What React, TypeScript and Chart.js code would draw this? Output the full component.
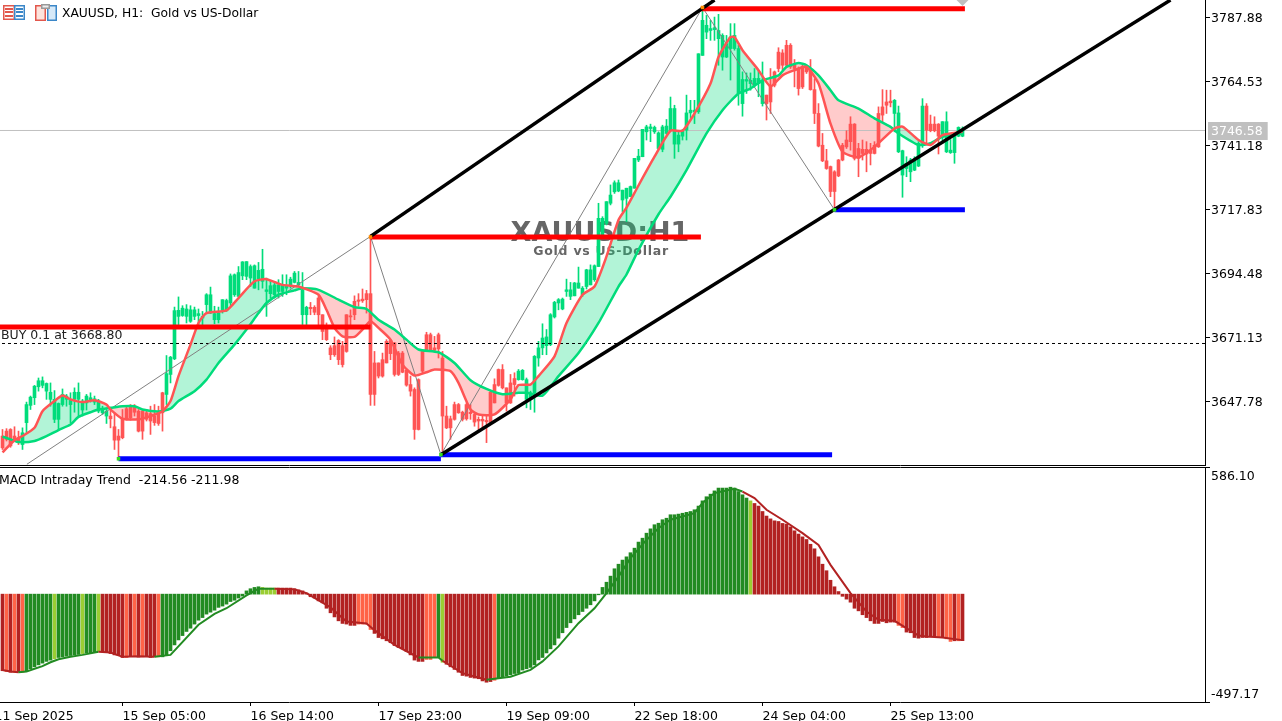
import React, { useEffect, useRef } from "react";
import { Chart, registerables } from "chart.js";

Chart.register(...registerables);

const opens = [
3635.0,3636.8,3637.4,3635.0,3634.4,3631.9,3639.9,3646.2,3649.0,3653.0,
3653.5,3651.4,3648.4,3641.1,3641.1,3646.5,3648.4,3646.5,3648.4,3648.4,
3644.5,3647.1,3648.0,3647.4,3644.1,3643.5,3642.3,3642.3,3638.4,3635.0,
3641.1,3645.0,3645.9,3645.7,3644.1,3644.1,3643.5,3643.2,3642.3,3643.5,
3650.8,3650.2,3657.5,3663.2,3678.7,3679.0,3678.7,3676.9,3678.7,3679.0,
3678.1,3683.0,3679.9,3677.5,3677.5,3680.9,3680.9,3683.6,3686.6,3686.0,
3693.5,3693.3,3692.7,3689.0,3692.3,3691.5,3687.8,3687.0,3686.6,3687.8,
3687.8,3689.0,3689.9,3691.1,3690.2,3679.3,3679.3,3682.0,3682.0,3685.4,
3679.3,3675.1,3667.2,3668.0,3669.9,3668.0,3679.3,3678.9,3684.2,3684.7,
3685.0,3687.0,3687.0,3661.7,3661.7,3662.9,3669.6,3669.9,3669.0,3665.3,
3665.3,3659.0,3653.8,3652.0,3655.6,3665.9,3672.0,3672.0,3667.2,3672.0,
3663.5,3642.3,3641.3,3646.5,3646.5,3643.7,3646.5,3643.7,3642.9,3641.1,
3641.1,3640.7,3651.0,3653.8,3659.3,3659.3,3652.6,3654.4,3656.0,3655.6,
3655.6,3648.4,3648.4,3650.8,3663.5,3667.2,3668.0,3668.4,3678.5,3683.6,
3681.4,3687.8,3686.0,3686.2,3689.0,3686.6,3689.6,3690.2,3692.1,3696.9,
3707.8,3712.7,3720.0,3724.2,3724.5,3721.2,3721.8,3722.4,3725.5,3735.8,
3737.0,3746.1,3747.3,3746.1,3740.0,3739.7,3745.5,3746.5,3741.6,3741.6,
3744.5,3746.7,3753.0,3753.4,3753.4,3774.0,3782.5,3783.1,3783.4,3780.1,
3773.4,3773.4,3776.5,3776.5,3760.1,3756.4,3764.6,3763.7,3763.1,3763.7,
3756.4,3759.5,3763.1,3768.0,3775.2,3774.9,3777.7,3777.7,3770.4,3769.2,
3770.0,3770.4,3768.6,3761.5,3752.8,3741.2,3735.5,3733.4,3731.5,3735.8,
3741.2,3743.1,3748.9,3748.9,3740.0,3739.7,3739.7,3739.4,3741.2,3752.8,
3755.2,3757.0,3757.3,3752.8,3738.8,3730.3,3732.7,3731.5,3732.1,3733.6,
3741.9,3755.5,3748.9,3748.9,3748.9,3744.5,3738.8,3738.5,3738.5,3744.5,
3744.5];

const highs = [
3637.4,3637.7,3637.7,3638.4,3636.8,3638.0,3647.4,3649.6,3653.5,3656.2,
3656.6,3654.4,3654.4,3651.6,3647.1,3652.2,3650.2,3650.8,3652.6,3654.4,
3648.4,3650.2,3650.8,3649.6,3648.4,3645.9,3644.7,3644.7,3643.5,3637.4,
3644.7,3645.9,3646.5,3646.5,3644.7,3644.7,3644.7,3645.9,3646.5,3645.9,
3651.0,3664.4,3664.1,3682.1,3685.8,3682.6,3683.0,3682.6,3682.1,3681.4,
3680.5,3687.0,3689.4,3682.4,3682.1,3684.8,3685.0,3694.2,3694.2,3696.9,
3698.7,3698.7,3697.5,3697.5,3698.4,3703.2,3692.7,3691.5,3691.5,3692.1,
3693.9,3693.9,3693.0,3695.1,3695.1,3694.7,3682.4,3683.8,3682.6,3686.0,
3679.3,3676.3,3668.0,3671.2,3670.2,3669.6,3679.3,3681.1,3686.2,3687.0,
3688.7,3688.2,3707.9,3665.9,3661.7,3665.3,3670.2,3670.2,3669.2,3665.9,
3665.9,3659.3,3656.9,3652.6,3655.9,3665.9,3672.9,3672.6,3671.4,3672.6,
3665.9,3645.9,3642.3,3647.4,3646.9,3644.1,3647.1,3646.5,3643.5,3642.0,
3642.3,3642.3,3651.4,3655.9,3659.5,3661.1,3652.6,3657.5,3658.1,3659.3,
3659.3,3656.2,3651.4,3664.4,3669.6,3676.0,3673.9,3679.7,3684.2,3685.2,
3685.4,3692.3,3691.1,3691.1,3696.7,3689.6,3695.9,3697.5,3697.5,3720.0,
3715.1,3720.6,3726.7,3728.2,3728.5,3724.8,3725.5,3726.3,3736.4,3739.7,
3747.0,3748.5,3748.9,3748.2,3746.1,3748.5,3750.6,3758.8,3755.8,3746.1,
3747.0,3759.5,3757.6,3757.6,3774.6,3791.4,3788.6,3786.8,3788.0,3789.0,
3781.9,3781.3,3785.6,3785.6,3777.7,3768.0,3767.6,3767.6,3769.2,3768.6,
3771.6,3759.5,3769.2,3768.3,3776.8,3776.1,3779.5,3778.3,3772.5,3769.8,
3770.4,3770.4,3772.5,3765.5,3756.4,3745.5,3739.7,3733.6,3731.9,3736.0,
3741.9,3746.5,3751.6,3749.1,3741.9,3743.1,3742.5,3741.9,3742.5,3755.2,
3761.5,3761.3,3761.3,3757.9,3755.5,3739.4,3737.0,3736.4,3737.0,3742.5,
3758.2,3756.4,3752.2,3751.6,3749.1,3749.8,3753.4,3743.3,3744.9,3747.9,
3747.9];

const lows = [
3630.1,3633.2,3630.9,3633.2,3631.9,3630.1,3636.2,3644.7,3646.5,3651.4,
3652.6,3648.4,3645.9,3639.9,3637.2,3645.9,3645.9,3639.9,3643.7,3642.3,
3642.3,3644.5,3647.4,3646.5,3643.5,3642.9,3639.6,3638.0,3630.1,3627.5,
3634.0,3640.8,3640.8,3642.3,3636.5,3633.8,3640.5,3635.6,3638.9,3638.9,
3636.8,3646.5,3654.4,3662.9,3675.7,3678.7,3676.3,3676.5,3677.5,3675.7,
3675.7,3679.7,3679.7,3676.0,3676.3,3679.9,3680.5,3682.6,3686.0,3686.0,
3692.1,3692.1,3689.6,3689.0,3688.4,3689.0,3678.7,3685.4,3685.4,3685.4,
3686.0,3686.6,3689.0,3690.9,3689.6,3675.7,3675.7,3679.3,3679.3,3675.7,
3670.2,3669.9,3662.9,3664.1,3661.1,3660.2,3665.6,3675.1,3677.5,3682.4,
3683.8,3679.9,3646.2,3646.2,3656.2,3656.5,3661.7,3662.9,3656.9,3657.1,
3658.1,3653.2,3649.6,3633.8,3637.2,3658.1,3665.9,3665.9,3665.9,3663.5,
3628.9,3637.7,3633.8,3640.8,3643.3,3640.5,3640.8,3641.1,3638.6,3637.4,
3638.0,3632.6,3639.6,3647.1,3653.2,3652.2,3644.1,3646.9,3649.6,3655.4,
3655.4,3645.3,3644.7,3643.7,3660.5,3664.7,3664.7,3668.0,3678.1,3681.1,
3681.1,3686.0,3684.8,3686.2,3689.0,3686.0,3688.7,3690.2,3691.5,3696.9,
3707.2,3712.1,3719.4,3723.6,3724.2,3716.9,3713.3,3722.4,3725.5,3735.2,
3737.0,3743.1,3742.5,3745.5,3739.7,3738.8,3744.9,3746.5,3736.4,3738.8,
3743.1,3743.1,3751.0,3749.1,3752.8,3774.0,3780.1,3779.5,3779.5,3770.4,
3768.6,3773.2,3765.0,3775.9,3755.8,3751.8,3760.1,3761.3,3762.5,3758.9,
3755.5,3750.4,3752.8,3762.5,3768.0,3768.6,3769.8,3769.2,3762.5,3759.5,
3761.9,3767.4,3761.3,3749.1,3740.6,3735.2,3732.4,3722.4,3718.2,3729.7,
3735.5,3740.0,3739.4,3735.8,3729.7,3735.8,3731.5,3734.0,3738.0,3740.4,
3749.7,3752.8,3755.2,3746.1,3738.5,3722.2,3729.7,3727.9,3731.9,3733.4,
3740.4,3742.1,3746.1,3746.1,3738.0,3741.9,3738.5,3738.2,3734.6,3744.3,
3744.3];

const closes = [
3630.7,3633.8,3631.4,3633.2,3632.6,3636.2,3646.5,3649.2,3653.2,3655.2,
3655.2,3654.2,3651.0,3648.4,3646.9,3650.2,3649.6,3648.4,3651.0,3651.0,
3647.8,3649.6,3649.0,3648.6,3647.8,3644.7,3644.1,3641.3,3633.5,3633.5,
3634.4,3641.1,3641.7,3643.7,3636.8,3636.8,3641.1,3640.5,3639.9,3639.6,
3643.5,3657.8,3663.8,3680.8,3680.9,3681.7,3681.4,3681.1,3681.1,3679.7,
3678.7,3686.6,3686.6,3679.7,3679.9,3684.8,3684.5,3693.5,3693.9,3694.7,
3698.6,3698.7,3696.9,3697.2,3695.5,3695.9,3688.4,3689.9,3690.2,3690.2,
3690.2,3689.9,3692.3,3694.5,3691.1,3688.4,3682.0,3681.5,3680.2,3679.3,
3673.2,3670.2,3664.7,3664.7,3662.9,3661.1,3665.9,3678.5,3679.3,3684.2,
3684.4,3684.8,3650.2,3650.2,3656.9,3656.9,3661.7,3665.1,3657.5,3657.5,
3658.3,3653.6,3651.4,3637.4,3637.4,3658.7,3666.3,3666.3,3666.3,3666.8,
3642.3,3638.0,3638.0,3641.1,3643.5,3641.1,3641.3,3643.2,3640.1,3640.5,
3640.5,3640.2,3639.9,3647.1,3653.5,3652.6,3647.1,3647.1,3653.8,3658.7,
3659.0,3655.6,3650.8,3664.1,3667.2,3670.8,3671.2,3679.3,3683.8,3684.8,
3685.0,3688.4,3688.4,3690.9,3690.9,3689.0,3695.7,3695.7,3697.2,3714.5,
3714.5,3720.6,3723.0,3727.5,3727.5,3724.8,3725.5,3726.1,3736.4,3737.2,
3747.0,3747.9,3747.9,3747.7,3745.7,3747.9,3748.2,3754.6,3754.6,3744.9,
3746.5,3753.0,3754.0,3754.0,3774.6,3786.8,3785.0,3783.8,3784.1,3783.1,
3781.3,3778.3,3780.7,3781.3,3776.5,3765.2,3765.2,3764.9,3765.6,3765.6,
3764.9,3756.4,3757.0,3763.1,3769.2,3770.4,3770.4,3769.8,3769.2,3761.9,
3762.5,3768.0,3761.5,3752.8,3740.9,3735.5,3732.7,3724.3,3724.3,3730.0,
3735.8,3740.6,3742.5,3736.4,3736.4,3738.2,3738.0,3738.2,3738.2,3740.6,
3752.2,3755.8,3756.7,3757.6,3753.0,3739.2,3734.6,3735.8,3735.8,3741.9,
3755.5,3746.7,3746.5,3746.5,3744.5,3749.8,3749.8,3739.4,3744.5,3747.7,
3746.58];

const fastBars = [0,3,5,8,10,13,15,17,20,23,26,27,30,34,37,40,42,44,47,49,51,56,59,63,66,70,74,79,81,83,85,88,90,92,94,97,100,103,106,108,112,114,117,119,123,127,129,132,134,138,141,145,148,151,154,156,159,163,167,170,173,177,179,182,183,185,189,192,195,198,201,204,207,210,214,218,223,225,229,232,235,240];
const fastValues = [3629,3633.5,3635,3638,3644.1,3647.8,3649.8,3648.4,3647.4,3648.1,3646.5,3644.7,3641.3,3641.1,3642.3,3644.1,3647.8,3656.9,3668.4,3676.3,3679.9,3680.9,3685.4,3691.5,3692.3,3690.2,3689.6,3686.6,3681.1,3674.5,3671.4,3671.2,3673.9,3676.9,3674.5,3670.2,3661.1,3657.1,3658.3,3659.3,3658.7,3654.4,3644.7,3642.9,3642.9,3648.4,3653.6,3653.8,3656.9,3664.1,3676.3,3686.6,3689.6,3700.6,3713.9,3718.4,3726.5,3737,3746.5,3746.5,3752.8,3763.7,3773.4,3780.7,3780.7,3775.9,3768.6,3762.7,3766.7,3768.6,3769.8,3763.7,3749.1,3738.8,3736.8,3740.6,3747.3,3748,3743.1,3741.3,3744.9,3746.1];

const slowBars = [0,2,4,8,11,14,17,19,22,24,27,30,33,35,39,42,44,48,51,54,58,61,64,66,69,73,75,79,84,88,91,94,98,101,104,109,113,117,121,125,129,131,135,139,144,149,154,156,159,164,167,171,176,180,184,187,190,194,196,199,201,204,207,209,214,218,222,224,229,232,235,240];
const slowValues = [3634.8,3633.8,3632.8,3633.2,3635,3637.2,3639.2,3642,3643.7,3644.7,3645.3,3645.9,3645.9,3644.7,3644,3645,3647.8,3651.4,3655.6,3661.7,3668.4,3673.9,3679.9,3683.6,3686.6,3688.2,3689,3688.4,3684.8,3682.1,3681.4,3677.5,3673.9,3670.2,3666.6,3665.6,3661.7,3655.4,3652.2,3650.3,3650.8,3650.8,3649.8,3656.9,3665.3,3676.3,3689.6,3694,3703,3716,3722.4,3732.1,3745.5,3754,3760.1,3761.9,3764.9,3766.7,3769.8,3771.2,3770.4,3766.7,3761.3,3757.6,3754.6,3751,3747.9,3745.5,3741.3,3741.9,3744.3,3745.5];

const histValues = [
-353,-357,-360,-360,-360,-360,-353,-344,-335,-326,
-318,-310,-304,-298,-292,-289,-286,-283,-280,-278,
-274,-272,-270,-269,-264,-266,-267,-274,-280,-283,
-292,-292,-286,-286,-290,-289,-286,-292,-289,-289,
-289,-280,-261,-234,-211,-191,-172,-157,-138,-120,
-108,-92,-83,-74,-61,-55,-46,-34,-28,-18,
-9,15,25,31,34,31,28,28,28,28,
28,28,28,25,20,15,5,-12,-18,-31,
-40,-65,-86,-105,-123,-135,-138,-144,-144,-138,
-138,-138,-163,-181,-200,-206,-215,-224,-237,-246,
-252,-264,-280,-304,-310,-310,-301,-301,-292,-292,
-314,-323,-335,-347,-360,-375,-378,-384,-387,-390,
-400,-406,-403,-397,-387,-381,-378,-372,-366,-363,
-350,-344,-338,-326,-303,-292,-271,-252,-234,-203,
-178,-154,-132,-114,-95,-80,-65,-49,-31,-3,
31,55,83,117,138,157,172,191,212,240,
258,281,301,320,327,343,350,366,366,369,
373,377,381,389,406,430,449,461,476,489,
489,489,493,489,473,458,443,430,418,406,
381,360,347,338,335,326,323,310,292,277,
264,252,230,209,172,138,108,64,34,12,
-10,-23,-37,-65,-77,-95,-108,-123,-135,-135,
-126,-132,-129,-129,-144,-154,-175,-178,-200,-203,
-200,-200,-197,-197,-197,-200,-206,-218,-215,-215,
-214.56];

// G rising above, Y turning up, R falling, T turning down: one letter per bar
const histStates =
  "RTRTRTGGGGGGGYGGGGGGYGGGYRRRRRRTRTRTRRRTGGGGGGGGGGGGGGGGGGGGGGGGGYYYYRRRRRRRRRRRRRRRRRRRRTTTTRRRRRRRRRRRRRTTTGYRRRRRRRRRRRRTGGGGGGGGGGGGGGGGGGGGGGGGGGGGGGGGGGGGGGGGGGGGGGGGGGGGGGGGGGGGGGGYRRRRRRRRRRRRRRRRRRRRRRRRRRRRRRRRRRRRTTRRRRRRRRTRTTRTRRRTR";

const macdBars = [0,2,4,6,8,10,12,14,17,20,24,27,30,34,38,42,49,53,56,61,64,68,73,76,82,86,91,93,98,104,109,110,115,121,127,132,135,139,144,148,151,154,157,161,164,167,173,175,178,183,185,188,191,195,200,204,207,212,216,219,223,229,231,235,240];
const macdValues = [-350,-357,-360,-357,-344,-332,-314,-300,-289,-280,-266,-269,-289,-286,-289,-280,-141,-91,-65,-6,25,25,22,5,-61,-126,-135,-166,-234,-292,-292,-307,-364,-395,-381,-349,-310,-241,-134,-65,5,81,166,250,304,343,373,420,466,486,473,443,389,343,281,227,135,5,-80,-118,-123,-191,-195,-200,-211.98];

const priceTicks = [3787.88, 3764.53, 3741.18, 3717.83, 3694.48, 3671.13, 3647.78];
const lastPrice = 3746.58;
const buyPrice = 3668.8;
const macdTickLabels = ["586.10", "-497.17"];
const macdMax = 586.1;
const macdMin = -497.17;
const timeTickBars = [-2, 30, 62, 94, 126, 158, 190, 222];
const timeTickLabels = ["11 Sep 2025", "15 Sep 05:00", "16 Sep 14:00", "17 Sep 23:00", "19 Sep 09:00", "22 Sep 18:00", "24 Sep 04:00", "25 Sep 13:00"];

const zigzagBars = [6.1, 92, 109.6, 175, 208];
const zigzagValues = [3624.7, 3707.9, 3628.2, 3791.5, 3717.6];
const channelUpperBars = [92, 178];
const channelUpperValues = [3707.9, 3794.2];
const channelLowerBars = [109.6, 292];
const channelLowerValues = [3628.2, 3794.2];

const redLevels = [[-5, 92, 3674.8], [92, 174.6, 3707.7], [174.6, 240.6, 3791.05]];
const blueLevels = [[29, 109.6, 3626.7], [109.6, 207.4, 3628.2], [208, 240.6, 3717.6]];
const anchorBars = [29, 92, 109.6, 175, 208];
const anchorValues = [3626.7, 3707.7, 3628.2, 3791.5, 3717.6];
const anchorColors = ["#33dd22", "#ff8c00", "#33dd22", "#ff8c00", "#33dd22"];

const GREEN = "#00DC7B";
const RED = "#FF5454";
const FONT = '"DejaVu Sans"';
const AXIS_W = 77;
const SHIFT = 16;
const X_MIN = -4.625;
const X_MAX = 300.625;

const zip = (xs: number[], ys: number[]) => xs.map((x, i) => ({ x, y: ys[i] }));
const bars = opens.map((_, i) => i);
const histColor: Record<string, string> = { G: "#228B22", Y: "#9ACD32", R: "#B22222", T: "#FF6347" };

const noPadX = (s: any) => { s.paddingLeft = 0; s.paddingRight = 0; s.height = 0; };

// MT5 sets its scale numbers slightly under the middle of the tick
const labelNudge = {
  id: "labelNudge",
  beforeDraw(chart: any) {
    chart.scales.y.getLabelItems().forEach((item: any) => { item.textOffset += 1.5; });
  },
};

function icons(c: CanvasRenderingContext2D, x: number) {
  const rr = (bx: number, y: number, w: number, h: number, fill: string, stroke: string) => {
    c.fillStyle = fill; c.strokeStyle = stroke; c.lineWidth = 1.5;
    c.fillRect(bx, y, w, h); c.strokeRect(bx + 0.75, y + 0.75, w - 1.5, h - 1.5);
  };
  rr(x + 3, 5, 12, 15, "#fff", "#e2574c");
  rr(x + 14, 5, 11, 15, "#fff", "#3b87c8");
  c.fillStyle = "#e2574c";
  [8, 11, 15].forEach((y) => c.fillRect(x + 5, y, 8, 2));
  c.fillStyle = "#3b87c8";
  [8, 11, 15].forEach((y) => c.fillRect(x + 16, y, 7, 2));
  rr(x + 35, 5, 11, 16, "#fde3dc", "#e2574c");
  rr(x + 47, 5, 10, 16, "#d6e9f8", "#3b87c8");
  rr(x + 41, 4, 9, 5, "#eee", "#999");
}

const mainOverlay = {
  id: "mainOverlay",
  beforeDatasetsDraw(chart: any) {
    const c = chart.ctx as CanvasRenderingContext2D;
    c.save();
    c.fillStyle = "#666666";
    c.textAlign = "center";
    c.textBaseline = "middle";
    c.font = `bold 27px ${FONT}`;
    c.fillText("XAUUSD:H1", 600 + SHIFT, 234);
    c.font = `bold 12.5px ${FONT}`;
    (c as any).letterSpacing = "0.75px";
    c.fillText("Gold vs US-Dollar", 601 + SHIFT, 252);
    c.restore();
  },
  afterDraw(chart: any) {
    const c = chart.ctx as CanvasRenderingContext2D;
    c.save();
    icons(c, SHIFT);
    c.fillStyle = "#000";
    c.textAlign = "left";
    c.textBaseline = "middle";
    c.font = `12.3px ${FONT}`;
    c.fillText("XAUUSD, H1:  Gold vs US-Dollar", 62 + SHIFT, 14);
    c.fillStyle = "#222";
    c.font = `12.5px ${FONT}`;
    c.fillText("BUY 0.1 at 3668.80", 1 + SHIFT, 336);
    c.restore();
  },
};

const subOverlay = {
  id: "subOverlay",
  afterDraw(chart: any) {
    const c = chart.ctx as CanvasRenderingContext2D;
    c.save();
    c.fillStyle = "#000";
    c.textAlign = "left";
    c.textBaseline = "middle";
    c.font = `12.5px ${FONT}`;
    c.fillText("MACD Intraday Trend  -214.56 -211.98", -1 + SHIFT, 14);
    c.restore();
  },
};

const line = (data: any[], color: string, width: number, order: number, extra: any = {}) => ({
  type: "line",
  data,
  borderColor: color,
  borderWidth: width,
  pointRadius: 0,
  order,
  ...extra,
});

export default function App() {
  const mainRef = useRef<HTMLCanvasElement>(null);
  const subRef = useRef<HTMLCanvasElement>(null);

  useEffect(() => {
    document.body.style.margin = "0";
    const fastData = zip(fastBars, fastValues);
    const slowData = zip(slowBars, slowValues);

    const levelSets = [
      ...redLevels.map((l) => line([{ x: l[0], y: l[2] }, { x: l[1], y: l[2] }], "#FF0000", 5, 5)),
      ...blueLevels.map((l) => line([{ x: l[0], y: l[2] }, { x: l[1], y: l[2] }], "#0000FF", 5, 5)),
    ];

    const main = new Chart(mainRef.current as HTMLCanvasElement, {
      type: "bar",
      plugins: [mainOverlay, labelNudge],
      data: {
        datasets: [
          line(fastData, "transparent", 0, 100, {
            fill: { target: 1, above: "rgba(0,220,123,0.30)", below: "rgba(255,84,84,0.30)" },
            tension: 0.2,
          }),
          line(slowData, "transparent", 0, 100, { tension: 0.2 }),
          line([{ x: X_MIN, y: lastPrice }, { x: X_MAX, y: lastPrice }], "#C0C0C0", 1, 95),
          {
            type: "bar",
            grouped: false,
            barThickness: 1,
            order: 90,
            data: bars.map((i) => ({ x: i, y: [lows[i], highs[i]] })),
            backgroundColor: bars.map((i) => (closes[i] >= opens[i] ? GREEN : RED)),
          },
          {
            type: "bar",
            grouped: false,
            barThickness: 3,
            minBarLength: 1,
            order: 89,
            data: bars.map((i) => ({ x: i, y: [Math.min(opens[i], closes[i]), Math.max(opens[i], closes[i])] })),
            backgroundColor: bars.map((i) => (closes[i] >= opens[i] ? GREEN : RED)),
          },
          line([{ x: X_MIN, y: buyPrice }, { x: X_MAX, y: buyPrice }], "#000", 1, 60, { borderDash: [3, 3] }),
          line(zip(zigzagBars, zigzagValues), "#808080", 1, 50),
          line(slowData, GREEN, 2.5, 30, { tension: 0.2 }),
          line(fastData, RED, 2.5, 20, { tension: 0.2 }),
          ...levelSets,
          line(zip(channelUpperBars, channelUpperValues), "#000", 3.5, 3),
          line(zip(channelLowerBars, channelLowerValues), "#000", 3.5, 3),
          {
            type: "line",
            showLine: false,
            order: 2,
            data: zip(anchorBars, anchorValues),
            pointStyle: "rect",
            pointRadius: 2.5,
            pointBorderWidth: 0,
            pointBackgroundColor: anchorColors,
          },
          {
            type: "line",
            showLine: false,
            order: 1,
            data: [{ x: 240, y: 3794.23 }],
            pointStyle: "rectRot",
            pointRadius: 6,
            pointBorderWidth: 0,
            pointBackgroundColor: "#C0C0C0",
          },
        ] as any,
      },
      options: {
        responsive: false,
        animation: false,
        devicePixelRatio: 1,
        events: [],
        layout: { autoPadding: false, padding: { left: 0, right: 0, top: 0, bottom: 1 } },
        plugins: { legend: { display: false }, tooltip: { enabled: false } },
        scales: {
          x: {
            type: "linear",
            offset: false,
            min: X_MIN,
            max: X_MAX,
            grid: { display: false, offset: false },
            border: { display: true, color: "#000", width: 1 },
            ticks: { display: false },
            afterFit: noPadX,
          },
          y: {
            type: "linear",
            position: "right",
            min: 3624.43,
            max: 3794.23,
            afterBuildTicks(s: any) {
              s.ticks = [...priceTicks, lastPrice].map((value) => ({ value }));
            },
            afterFit(s: any) {
              s.width = AXIS_W;
              s.paddingTop = 0;
              s.paddingBottom = 0;
            },
            grid: {
              drawOnChartArea: false,
              tickLength: 5,
              tickColor: (ctx: any) => (ctx.tick && ctx.tick.value === lastPrice ? "transparent" : "#000"),
            },
            border: { display: true, color: "#000", width: 1 },
            ticks: {
              autoSkip: false,
              padding: 1,
              font: { family: FONT, size: 12.5 },
              color: (ctx: any) => (ctx.tick && ctx.tick.value === lastPrice ? "#fff" : "#000"),
              showLabelBackdrop: (ctx: any) => !!ctx.tick && ctx.tick.value === lastPrice,
              backdropColor: "#C0C0C0",
              backdropPadding: { left: 3, right: 5, top: 1, bottom: 2 },
              callback: (v: any) => Number(v).toFixed(2),
            },
          },
        },
      } as any,
    } as any);

    const sub = new Chart(subRef.current as HTMLCanvasElement, {
      type: "bar",
      plugins: [subOverlay, labelNudge],
      data: {
        datasets: [
          {
            type: "bar",
            grouped: false,
            barThickness: 3,
            order: 5,
            yAxisID: "y",
            xAxisID: "x",
            data: zip(bars, histValues),
            backgroundColor: bars.map((i) => histColor[histStates[i]] || "#B22222"),
          },
          {
            type: "line",
            order: 1,
            yAxisID: "y",
            xAxisID: "x",
            data: zip(macdBars, macdValues),
            borderWidth: 2,
            borderColor: "#B22222",
            pointRadius: 0,
            segment: {
              borderColor: (ctx: any) => {
                const s = histStates[Math.round(ctx.p1.parsed.x)];
                return s === "G" || s === "Y" ? "#228B22" : "#B22222";
              },
            },
          },
        ] as any,
      },
      options: {
        responsive: false,
        animation: false,
        devicePixelRatio: 1,
        events: [],
        layout: { autoPadding: false, padding: 0 },
        plugins: { legend: { display: false }, tooltip: { enabled: false } },
        scales: {
          x: {
            type: "linear",
            position: "bottom",
            offset: false,
            min: X_MIN,
            max: X_MAX,
            afterBuildTicks(s: any) {
              s.ticks = timeTickBars.map((value) => ({ value }));
            },
            afterFit(s: any) {
              s.height = 19;
              s.paddingLeft = 0;
              s.paddingRight = 0;
            },
            grid: { drawOnChartArea: false, tickLength: 4, tickColor: "#000", offset: false },
            border: { display: true, color: "#000", width: 1 },
            ticks: {
              autoSkip: false,
              maxRotation: 0,
              minRotation: 0,
              align: "start",
              padding: 3,
              color: "#000",
              font: { family: FONT, size: 12.5 },
              callback: (v: any) => timeTickLabels[timeTickBars.indexOf(Number(v))],
            },
          },
          xTop: {
            type: "linear",
            position: "top",
            axis: "x",
            min: X_MIN,
            max: X_MAX,
            grid: { display: false },
            border: { display: true, color: "#000", width: 1 },
            ticks: { display: false },
            afterFit: noPadX,
          },
          y: {
            type: "linear",
            position: "right",
            min: macdMin,
            max: macdMax,
            afterBuildTicks(s: any) {
              s.ticks = [{ value: macdMin }, { value: macdMax }];
            },
            afterFit(s: any) {
              s.width = AXIS_W;
              s.paddingTop = 0;
              s.paddingBottom = 0;
            },
            grid: { drawOnChartArea: false, tickLength: 5, tickColor: "#000" },
            border: { display: true, color: "#000", width: 1 },
            ticks: {
              autoSkip: false,
              padding: 1,
              color: "#000",
              font: { family: FONT, size: 12.5, lineHeight: 1.35 },
              callback: (v: any) => (Number(v) > 0 ? ["", macdTickLabels[0]] : [macdTickLabels[1], ""]),
            },
          },
        },
      } as any,
    } as any);

    return () => {
      main.destroy();
      sub.destroy();
    };
  }, []);

  return (
    <div style={{ position: "fixed", left: 0, top: 0, width: 1282, height: 721, overflow: "hidden", background: "#fff" }}>
      <canvas ref={mainRef} width={1282 + SHIFT} height={466} style={{ position: "absolute", left: -SHIFT, top: 0, display: "block" }} />
      <canvas ref={subRef} width={1282 + SHIFT} height={254} style={{ position: "absolute", left: -SHIFT, top: 467, display: "block" }} />
    </div>
  );
}
